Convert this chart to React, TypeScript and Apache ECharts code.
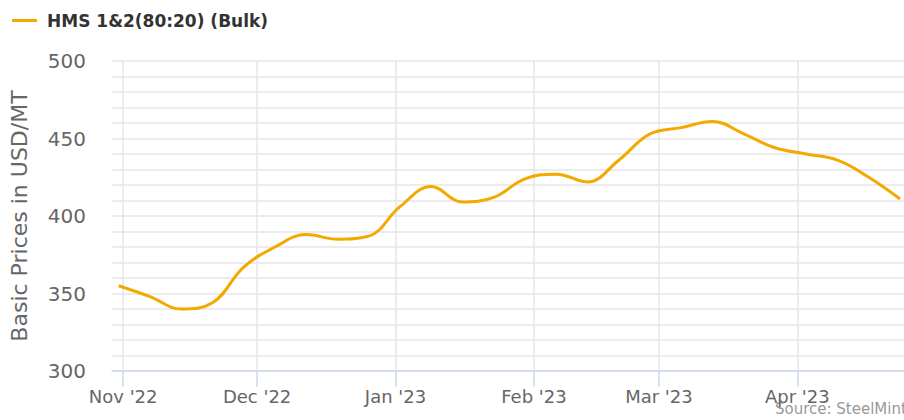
import React, { useEffect, useRef } from "react";
import * as echarts from "echarts";

const seriesName = "HMS 1&2(80:20) (Bulk)";
const weekStarts: [number, number, number][] = [
  [2022, 9, 31], [2022, 10, 7], [2022, 10, 14], [2022, 10, 21], [2022, 10, 28],
  [2022, 11, 5], [2022, 11, 12], [2022, 11, 19], [2022, 11, 26],
  [2023, 0, 2], [2023, 0, 9], [2023, 0, 16], [2023, 0, 23], [2023, 0, 30],
  [2023, 1, 6], [2023, 1, 13], [2023, 1, 20], [2023, 1, 27],
  [2023, 2, 6], [2023, 2, 13], [2023, 2, 20], [2023, 2, 27],
  [2023, 3, 3], [2023, 3, 10], [2023, 3, 17], [2023, 3, 24],
];
const prices = [
  355, 348, 340, 344, 367,
  380, 388, 385, 387,
  406, 419, 409, 412, 424,
  427, 422, 436, 453,
  457, 461, 453, 444,
  440, 436, 425, 411,
];
const monthTicks: [number, number][] = [
  [2022, 10], [2022, 11], [2023, 0], [2023, 1], [2023, 2], [2023, 3],
];
const monthNames = ["Jan", "Feb", "Mar", "Apr", "May", "Jun", "Jul", "Aug", "Sep", "Oct", "Nov", "Dec"];
const yTicks = { min: 300, max: 500, step: 50 };
const yTitle = "Basic Prices in USD/MT";
const sourceText = "Source: SteelMint";

const FONT = "DejaVu Sans";
const DAY = 86400000;

export default function App() {
  const ref = useRef<HTMLDivElement>(null);
  useEffect(() => {
    document.body.style.margin = "0";
    if (!ref.current) return;
    const chart = echarts.init(ref.current, undefined, { renderer: "svg" });
    const data = weekStarts.map((d, i) => [new Date(d[0], d[1], d[2]).getTime(), prices[i]]);
    const tickVals = monthTicks.map((m) => new Date(m[0], m[1], 1).getTime());
    const xMin = new Date(2022, 9, 29, 12, 0).getTime();
    const xMax = new Date(2023, 3, 24, 21, 30).getTime();
    chart.setOption({
      animation: false,
      textStyle: { fontFamily: FONT },
      grid: { left: 109, right: 0, top: 61, bottom: 49, containLabel: false, show: false },
      legend: {
        left: 12,
        top: 12,
        padding: 0,
        icon: "rect",
        itemWidth: 25,
        itemHeight: 3,
        data: [seriesName],
        textStyle: { fontFamily: FONT, fontSize: 17, fontWeight: "bold", color: "#333", padding: [0, 0, 0, 5] },
      },
      xAxis: {
        type: "time",
        min: xMin,
        max: xMax,
        minInterval: 28 * DAY,
        maxInterval: 31 * DAY,
        axisLine: { lineStyle: { color: "#ccd6eb", width: 1.5 } },
        axisTick: { show: true, length: 16, lineStyle: { color: "#ccd6eb", width: 1.5 } },
        minorTick: { show: false },
        minorSplitLine: { show: false },
        axisLabel: {
          margin: 16,
          fontSize: 18,
          color: "#666",
          fontFamily: FONT,
          showMinLabel: false,
          showMaxLabel: false,
          formatter: (v: number) => {
            const d = new Date(v);
            return monthNames[d.getMonth()] + " '" + String(d.getFullYear()).slice(2);
          },
        },
        splitLine: { show: false },
      },
      yAxis: {
        type: "value",
        min: yTicks.min,
        max: yTicks.max,
        interval: yTicks.step,
        name: yTitle,
        nameLocation: "middle",
        nameGap: 82,
        nameTextStyle: { fontSize: 22, color: "#666", fontFamily: FONT },
        axisLine: { show: false },
        axisTick: { show: false },
        axisLabel: { margin: 26, fontSize: 20, color: "#666", fontFamily: FONT },
        splitLine: { lineStyle: { color: "#e6e6e6", width: 1.5 } },
        minorTick: { show: false, splitNumber: 5 },
        minorSplitLine: { show: true, lineStyle: { color: "#e6e6e6", width: 1.5 } },
      },
      series: [
        {
          name: seriesName,
          type: "line",
          data,
          smooth: 0.4,
          showSymbol: false,
          lineStyle: { color: "#f2a900", width: 3 },
          itemStyle: { color: "#f2a900" },
          markLine: {
            silent: true,
            symbol: "none",
            label: { show: false },
            lineStyle: { color: "#e6e6e6", width: 1.5, type: "solid" },
            data: tickVals.map((t) => ({ xAxis: t })),
            z: 0,
          },
        },
      ],
      graphic: [
        {
          type: "text",
          left: 775,
          top: 401,
          style: { text: sourceText, fontSize: 15, fill: "#999", fontFamily: FONT },
        },
      ],
    });
    return () => chart.dispose();
  }, []);
  return <div ref={ref} style={{ width: 904, height: 420 }} />;
}
